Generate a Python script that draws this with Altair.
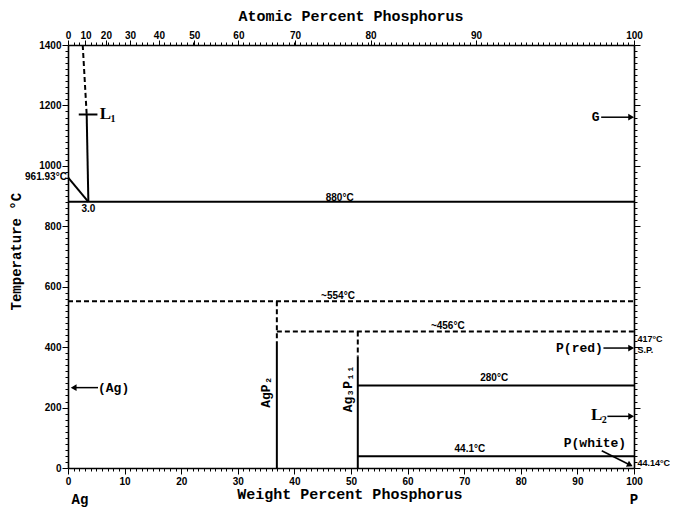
import altair as alt
import pandas as pd

# ---------------- data ----------------
# solid phase boundaries (wt% P, temperature degC)
solid_x1 = [0.0, 3.3, 0.0, 36.9, 51.2, 51.2, 51.2, 1.9]
solid_y1 = [961.93, 1170, 881, 414, 369, 273, 39, 1170]
solid_x2 = [3.6, 3.6, 100, 36.9, 51.2, 100, 100, 5.2]
solid_y2 = [881, 881, 881, 0, 0, 273, 39, 1170]

# dashed (uncertain) boundaries
dash_x1 = [2.6, 0.0, 36.9, 36.9, 51.2]
dash_y1 = [1400, 552, 552, 452, 452]
dash_x2 = [3.3, 100, 36.9, 100, 51.2]
dash_y2 = [1170, 552, 414, 452, 369]

# arrows (tail -> head)
arr_x1 = [5.3, 94.2, 94.6, 95.3, 94.3]
arr_y1 = [266, 1161, 397, 171, 57]
arr_x2 = [1.0, 99.5, 99.5, 99.5, 99.3]
arr_y2 = [266, 1161, 397, 171, 10]
arr_shape = ["triangle-left", "triangle-right", "triangle-right", "triangle-right", "triangle-right"]
arr_angle = [0, 0, 0, 0, 27]

# small numeric annotations
num_text = ["880°C", "~554°C", "~456°C", "280°C", "44.1°C", "3.0"]
num_x = [48.0, 47.7, 67.1, 75.3, 71.0, 3.6]
num_y = [895, 568, 469, 298, 64, 858]

right_text = ["417°C", "S.P.", "44.14°C"]
right_x = [100.6, 100.6, 100.6]
right_y = [428, 389, 17]

# phase labels
phase_r_text = ["G", "P(red)"]
phase_r_x = [93.9, 94.5]
phase_r_y = [1161, 397]
phase_l_text = ["(Ag)"]
phase_l_x = [5.3]
phase_l_y = [266]

# liquid labels L1, L2: main letter and subscript
liq_text = ["L", "L"]
liq_x = [5.6, 92.4]
liq_y = [1170, 175]
liq_sub = ["1", "2"]
liq_sub_x = [7.5, 94.3]
liq_sub_y = [1155, 160]

compound_text = ["AgP₂", "Ag₃P₁₁"]
compound_x = [34.9, 49.4]
compound_y = [251, 262]

# axis ticks
wt_ticks = list(range(0, 101))
temp_ticks = list(range(0, 1401, 20))
at_labels = [0, 10, 20, 30, 40, 50, 60, 70, 80, 90, 100]
M_P, M_AG = 30.97, 107.87
at_pos = [a * M_P / (a * M_P + (100 - a) * M_AG) * 100 for a in at_labels]
top_ticks = sorted(set([round(v, 4) for v in at_pos] + list(range(1, 100))))

# ---------------- build chart ----------------
xs = alt.Scale(domain=[0, 100], nice=False, zero=False)
ys = alt.Scale(domain=[0, 1400], nice=False, zero=False)

LBL = dict(labelFont="Liberation Sans", labelFontWeight="bold", labelFontSize=10,
           labelColor="black", domainColor="black", domainWidth=1.6,
           tickColor="black", tickWidth=1, grid=False, title=None,
           labelOverlap=False, labelFlush=False)

bottom_axis = alt.Axis(orient="bottom", values=wt_ticks,
                       labelExpr="datum.value % 10 === 0 ? datum.label : ''",
                       tickSize={"condition": {"test": "datum.value % 10 === 0", "value": 6}, "value": 3},
                       labelPadding=2, **LBL)
left_axis = alt.Axis(orient="left", values=temp_ticks,
                     labelExpr="datum.value % 200 === 0 ? datum.label : ''",
                     tickSize={"condition": {"test": "datum.value % 200 === 0", "value": 6}, "value": 3},
                     labelPadding=1, format="d", **LBL)

AT = "(100*(datum.value/30.97)/((datum.value/30.97)+((100-datum.value)/107.87)))"
MAJ = f"abs({AT} - round({AT}/10)*10) < 0.01"
top_axis = alt.Axis(orient="top", values=top_ticks,
                    labelExpr=f"{MAJ} ? format(round({AT}), 'd') : ''",
                    tickSize={"condition": {"test": MAJ, "value": 5}, "value": 3},
                    labelPadding=0, **LBL)
right_axis = alt.Axis(orient="right", values=temp_ticks, labels=False,
                      tickSize={"condition": {"test": "datum.value % 200 === 0", "value": 6}, "value": 3},
                      **LBL)

solid_df = pd.DataFrame({"x1": solid_x1, "y1": solid_y1, "x2": solid_x2, "y2": solid_y2})
dash_df = pd.DataFrame({"x1": dash_x1, "y1": dash_y1, "x2": dash_x2, "y2": dash_y2})
arr_df = pd.DataFrame({"x1": arr_x1, "y1": arr_y1, "x2": arr_x2, "y2": arr_y2,
                       "shape": arr_shape, "ang": arr_angle})

solid = alt.Chart(solid_df).mark_rule(color="black", strokeWidth=2).encode(
    x=alt.X("x1:Q", scale=xs, axis=bottom_axis),
    y=alt.Y("y1:Q", scale=ys, axis=left_axis),
    x2="x2:Q", y2="y2:Q")

dashed = alt.Chart(dash_df).mark_rule(color="black", strokeWidth=2, strokeDash=[5, 3]).encode(
    x=alt.X("x1:Q", scale=xs, axis=top_axis),
    y=alt.Y("y1:Q", scale=ys, axis=right_axis),
    x2="x2:Q", y2="y2:Q")

arr_lines = alt.Chart(arr_df).mark_rule(color="black", strokeWidth=1.5).encode(
    x=alt.X("x1:Q", scale=xs, axis=None), y=alt.Y("y1:Q", scale=ys, axis=None),
    x2="x2:Q", y2="y2:Q")

arr_heads = alt.Chart(arr_df).mark_point(filled=True, color="black", opacity=1, size=45).encode(
    x=alt.X("x2:Q", scale=xs, axis=None), y=alt.Y("y2:Q", scale=ys, axis=None),
    shape=alt.Shape("shape:N", scale=None), angle=alt.Angle("ang:Q", scale=None))


def text_layer(texts, xv, yv, align="center", font="Liberation Sans", size=10,
               weight="bold", angle=0):
    df = pd.DataFrame({"t": texts, "x": xv, "y": yv})
    return alt.Chart(df).mark_text(align=align, baseline="middle", font=font, fontSize=size,
                                   fontWeight=weight, color="black", angle=angle).encode(
        x=alt.X("x:Q", scale=xs, axis=None), y=alt.Y("y:Q", scale=ys, axis=None), text="t:N")


MONO = "Liberation Mono"
SERIF = "Liberation Serif"
layers = [
    solid, dashed, arr_lines, arr_heads,
    text_layer(num_text, num_x, num_y, size=10),
    text_layer(["961.93°C"], [-0.2], [962], align="right", size=10),
    text_layer(right_text, right_x, right_y, align="left", size=9),
    text_layer(phase_r_text, phase_r_x, phase_r_y, align="right", font=MONO, size=13),
    text_layer(phase_l_text, phase_l_x, phase_l_y, align="left", font=MONO, size=13),
    text_layer(liq_text, liq_x, liq_y, align="left", font=SERIF, size=17),
    text_layer(liq_sub, liq_sub_x, liq_sub_y, align="left", font=SERIF, size=10),
    text_layer(["P(white)"], [93.1], [84], font=MONO, size=13),
    text_layer(compound_text, compound_x, compound_y, font=MONO, size=13, angle=270),
    text_layer(["Atomic Percent Phosphorus"], [50.0], [1496], font=MONO, size=15),
    text_layer(["Weight Percent Phosphorus"], [49.8], [-86], font=MONO, size=15),
    text_layer(["Temperature °C"], [-9.0], [716], font=MONO, size=14, angle=270),
    text_layer(["Ag", "P"], [2.1, 100.0], [-106, -106], font=MONO, size=14),
]

chart = alt.layer(*layers).resolve_axis(x="independent", y="independent").properties(
    width=566, height=423,
    padding={"left": 60, "top": 37, "right": 36, "bottom": 39},
    autosize=alt.AutoSizeParams(type="none"),
).configure_view(stroke=None)

chart.save("out.html", embed_options={"renderer": "svg", "actions": False})
